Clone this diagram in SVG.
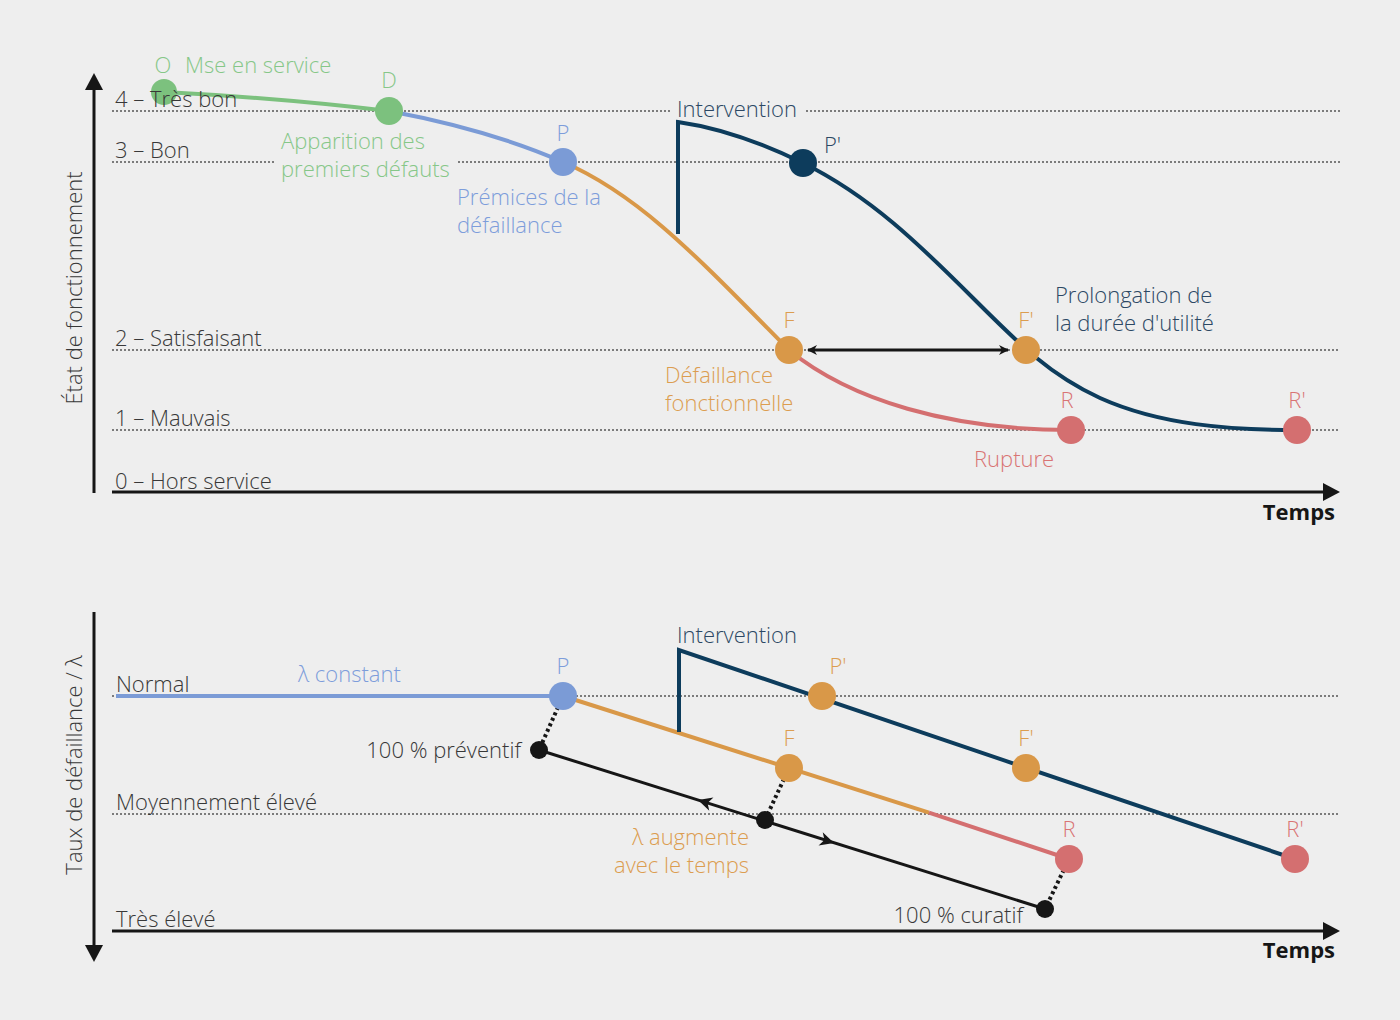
<svg xmlns="http://www.w3.org/2000/svg" width="1400" height="1020" viewBox="0 0 1400 1020">
<style>
text{font-family:"Open Sans","Liberation Sans",sans-serif;font-weight:300;font-size:22px}
.lvl{fill:#383838}
.dot{stroke:#555;stroke-width:1.6;stroke-dasharray:2 2;fill:none}
.axis{stroke:#161616;stroke-width:3;fill:none}
.g{fill:#86c788}.b{fill:#7d9ddb}.o{fill:#dc9d50}.r{fill:#d97474}.n{fill:#2c4864}
.bold{font-weight:700;fill:#161616}
</style>
<defs>
<marker id="ah" markerWidth="10" markerHeight="10" refX="9" refY="5" orient="auto-start-reverse" markerUnits="userSpaceOnUse">
<path d="M0,0 L10,5 L0,10 L3,5 Z" fill="#161616"/>
</marker>
</defs>
<rect width="1400" height="1020" fill="#eeeeee"/>

<g id="grid-top">
<path class="dot" d="M112,111 H672 M806,111 H1340"/>
<path class="dot" d="M112,162 H275 M458,162 H1340"/>
<path class="dot" d="M112,350 H1340"/>
<path class="dot" d="M112,430 H1340"/>
</g>
<g id="grid-bottom">
<path class="dot" d="M112,696 H1340"/>
<path class="dot" d="M112,814 H1340"/>
</g>
<g id="axes-top">
<path class="axis" d="M94,493 V88"/>
<polygon points="94,73 85,90 103,90" fill="#161616"/>
<path class="axis" d="M112,492 H1325"/>
<polygon points="1340,492 1323,483 1323,501" fill="#161616"/>
<text x="82" y="288" text-anchor="middle" transform="rotate(-90 82 288)" class="lvl">État de fonctionnement</text>
<text x="1335" y="520" text-anchor="end" class="bold">Temps</text>
</g>

<g id="connectors">
<path d="M164,92 Q280,98 389,111" stroke="#7cc17e" stroke-width="4" fill="none"/>
<path d="M389,111 Q490,130 563,162" stroke="#7b9bd6" stroke-width="4" fill="none"/>
<path d="M563,162 C640,195 700,260 789,350" stroke="#d99848" stroke-width="4" fill="none"/>
<path d="M789,350 C850,400 950,430 1071,430" stroke="#d46f70" stroke-width="4" fill="none"/>
<path d="M678,234 V122 C720,128 760,142 803,163 C870,196 920,245 975,300 C1020,345 1050,375 1100,398 C1160,425 1230,430 1297,430" stroke="#0d3c5c" stroke-width="4" fill="none"/>
<path d="M808,350 H1008" stroke="#161616" stroke-width="3" fill="none" marker-start="url(#ah)" marker-end="url(#ah)"/>

<path d="M116,696 H563" stroke="#7b9bd6" stroke-width="4" fill="none"/>
<path d="M563,696 L929,812.6" stroke="#d99848" stroke-width="4" fill="none"/>
<path d="M929,812.6 L1069,859" stroke="#d46f70" stroke-width="4" fill="none"/>
<path d="M679,732 V650 L1295,859" stroke="#0d3c5c" stroke-width="4" fill="none"/>
<path d="M539,750 L1045,909" stroke="#161616" stroke-width="3" fill="none"/>
<path d="M563,696 L539,750 M789,768 L765,820 M1069,859 L1045,909" stroke="#161616" stroke-width="4" stroke-dasharray="3 3" fill="none"/>
<polygon points="0,0 -14,-7 -10,0 -14,7" fill="#161616" transform="translate(698,800) rotate(197.4)"/>
<polygon points="0,0 -14,-7 -10,0 -14,7" fill="#161616" transform="translate(834,843) rotate(17.4)"/>
</g>

<g id="node-O"><circle cx="164" cy="92" r="13" fill="#7cc17e"/><text x="163" y="73" text-anchor="middle" class="g">O</text><text x="185" y="73" class="g">Mse en service</text></g>
<g id="node-D"><circle cx="389" cy="111" r="14" fill="#7cc17e"/><text x="389" y="88" text-anchor="middle" class="g">D</text><text x="281" y="149" class="g">Apparition des</text><text x="281" y="177" class="g">premiers défauts</text></g>
<g id="node-P"><circle cx="563" cy="162" r="14" fill="#7b9bd6"/><text x="563" y="141" text-anchor="middle" class="b">P</text><text x="457" y="205" class="b">Prémices de la</text><text x="457" y="233" class="b">défaillance</text></g>
<g id="node-F"><circle cx="789" cy="350" r="14" fill="#d99848"/><text x="789" y="328" text-anchor="middle" class="o">F</text><text x="665" y="383" class="o">Défaillance</text><text x="665" y="411" class="o">fonctionnelle</text></g>
<g id="node-R"><circle cx="1071" cy="430" r="14" fill="#d46f70"/><text x="1067" y="408" text-anchor="middle" class="r">R</text><text x="974" y="467" class="r">Rupture</text></g>
<g id="intervention-top"><text x="677" y="117" class="n">Intervention</text></g>
<g id="node-Pp"><circle cx="803" cy="163" r="14" fill="#0d3c5c"/><text x="824" y="153" class="n">P'</text></g>
<g id="node-Fp"><circle cx="1026" cy="350" r="14" fill="#d99848"/><text x="1026" y="328" text-anchor="middle" class="o">F'</text></g>
<g id="node-Rp"><circle cx="1297" cy="430" r="14" fill="#d46f70"/><text x="1297" y="408" text-anchor="middle" class="r">R'</text></g>
<g id="prolongation"><text x="1055" y="303" class="n">Prolongation de</text><text x="1055" y="331" class="n">la durée d'utilité</text></g>

<g id="levels-top">
<text x="115" y="107" class="lvl">4 – Très bon</text>
<text x="115" y="158" class="lvl">3 – Bon</text>
<text x="115" y="346" class="lvl">2 – Satisfaisant</text>
<text x="115" y="426" class="lvl">1 – Mauvais</text>
<text x="115" y="489" class="lvl">0 – Hors service</text>
</g>

<g id="axes-bottom">
<path class="axis" d="M94,612 V947"/>
<polygon points="94,962 85,945 103,945" fill="#161616"/>
<path class="axis" d="M112,931 H1325"/>
<polygon points="1340,931 1323,922 1323,940" fill="#161616"/>
<text x="82" y="765" text-anchor="middle" transform="rotate(-90 82 765)" class="lvl">Taux de défaillance / λ</text>
<text x="1335" y="958" text-anchor="end" class="bold">Temps</text>
</g>
<g id="levels-bottom">
<text x="116" y="692" class="lvl">Normal</text>
<text x="116" y="810" class="lvl">Moyennement élevé</text>
<text x="116" y="927" class="lvl">Très élevé</text>
</g>
<g id="b-constant"><text x="298" y="682" class="b">λ constant</text></g>
<g id="b-node-P"><circle cx="563" cy="696" r="14" fill="#7b9bd6"/><text x="563" y="674" text-anchor="middle" class="b">P</text></g>
<g id="b-intervention"><text x="677" y="643" class="n">Intervention</text></g>
<g id="b-node-Pp"><circle cx="822" cy="696" r="14" fill="#d99848"/><text x="838" y="674" text-anchor="middle" class="o">P'</text></g>
<g id="b-node-F"><circle cx="789" cy="768" r="14" fill="#d99848"/><text x="789" y="746" text-anchor="middle" class="o">F</text></g>
<g id="b-node-Fp"><circle cx="1026" cy="768" r="14" fill="#d99848"/><text x="1026" y="746" text-anchor="middle" class="o">F'</text></g>
<g id="b-node-R"><circle cx="1069" cy="859" r="14" fill="#d46f70"/><text x="1069" y="837" text-anchor="middle" class="r">R</text></g>
<g id="b-node-Rp"><circle cx="1295" cy="859" r="14" fill="#d46f70"/><text x="1295" y="837" text-anchor="middle" class="r">R'</text></g>
<g id="b-preventif"><circle cx="539" cy="750" r="9" fill="#161616"/><text x="521" y="758" text-anchor="end" class="lvl">100 % préventif</text></g>
<g id="b-mid"><circle cx="765" cy="820" r="9" fill="#161616"/><text x="749" y="845" text-anchor="end" class="o">λ augmente</text><text x="749" y="873" text-anchor="end" class="o">avec le temps</text></g>
<g id="b-curatif"><circle cx="1045" cy="909" r="9" fill="#161616"/><text x="1023" y="923" text-anchor="end" class="lvl">100 % curatif</text></g>
</svg>
